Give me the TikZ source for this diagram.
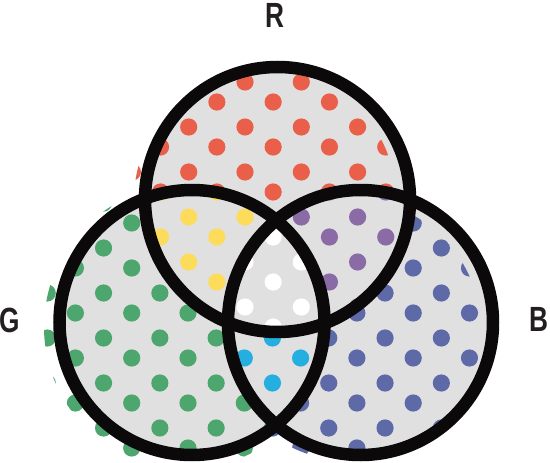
\documentclass[tikz,border=0pt]{standalone}
\usepackage{fontspec}
\setmainfont{Liberation Sans}
\definecolor{fillgray}{HTML}{E0E0E0}
\definecolor{ringc}{HTML}{0B0909}
\definecolor{labelc}{HTML}{231F20}
\definecolor{dotred}{HTML}{EA5F4A}
\definecolor{dotgreen}{HTML}{4DA66D}
\definecolor{dotblue}{HTML}{5E69A8}
\definecolor{dotyellow}{HTML}{FDDC5B}
\definecolor{dotpurple}{HTML}{8A6BA6}
\definecolor{dotcyan}{HTML}{25AEE0}
\newcommand\dotlattice[3]{%
  \foreach \k in {-7,...,7}{\foreach \m in {-6,...,6}{
    \fill[#3] ({#1+56.3*\m},{#2+45*\k}) circle (8.6pt);
    \fill[#3] ({#1+28.15+56.3*\m},{#2+20+45*\k}) circle (8.6pt);
  }}}
\newcommand\notcircle[1]{\clip (-60,-60) rectangle (620,530) (#1) circle (132.5pt);}
\tikzset{
  ring/.style={draw=ringc, line width=12.5pt},
  lbl/.style={font=\fontsize{35}{35}\selectfont\bfseries, text=labelc, inner sep=0pt}
}
\begin{document}
\begin{tikzpicture}[x=1pt,y=-1pt]
\useasboundingbox (0,0) rectangle (550,463);
\coordinate (cR) at (277.5,199.5);
\coordinate (cG) at (192,322.5);
\coordinate (cB) at (360.5,322.5);
% offset print areas of the dot screens
\coordinate (pR) at (265,200);
\coordinate (pG) at (186,327);
\coordinate (pB) at (350,330);
% grey fill
\fill[fillgray] (cR) circle (132.5pt) (cG) circle (132.5pt) (cB) circle (132.5pt);
% R only
\begin{scope}[even odd rule]
  \clip (pR) circle (131pt);
  \notcircle{cG}
  \notcircle{cB}
  \dotlattice{245}{217}{dotred}
\end{scope}
% G only
\begin{scope}[even odd rule]
  \clip (pG) circle (142pt);
  \notcircle{cR}
  \notcircle{cB}
  \dotlattice{272.45}{338}{dotgreen}
\end{scope}
% B only
\begin{scope}[even odd rule]
  \clip (pB) circle (131pt);
  \notcircle{cR}
  \notcircle{cG}
  \dotlattice{272.45}{338}{dotblue}
\end{scope}
% R and G
\begin{scope}[even odd rule]
  \clip (cR) circle (132.5pt);
  \clip (cG) circle (132.5pt);
  \notcircle{cB}
  \dotlattice{245}{217}{dotyellow}
\end{scope}
% R and B
\begin{scope}[even odd rule]
  \clip (cR) circle (132.5pt);
  \clip (cB) circle (132.5pt);
  \notcircle{cG}
  \dotlattice{245}{217}{dotpurple}
\end{scope}
% G and B
\begin{scope}[even odd rule]
  \clip (cG) circle (132.5pt);
  \clip (cB) circle (132.5pt);
  \notcircle{cR}
  \dotlattice{272.45}{338}{dotcyan}
\end{scope}
% all three
\begin{scope}
  \clip (cR) circle (132.5pt);
  \clip (cG) circle (132.5pt);
  \clip (cB) circle (132.5pt);
  \dotlattice{245}{217}{white}
\end{scope}
% rings
\draw[ring] (cR) circle (132.5pt);
\draw[ring] (cG) circle (132.5pt);
\draw[ring] (cB) circle (132.5pt);
% labels
\node[lbl] (labR) at (275,15.5) {\scalebox{0.75}[1]{R}};
\node[lbl] (labG) at (10,320) {\scalebox{0.75}[1]{G}};
\node[lbl] (labB) at (539,319.5) {\scalebox{0.75}[1]{B}};
\end{tikzpicture}
\end{document}
